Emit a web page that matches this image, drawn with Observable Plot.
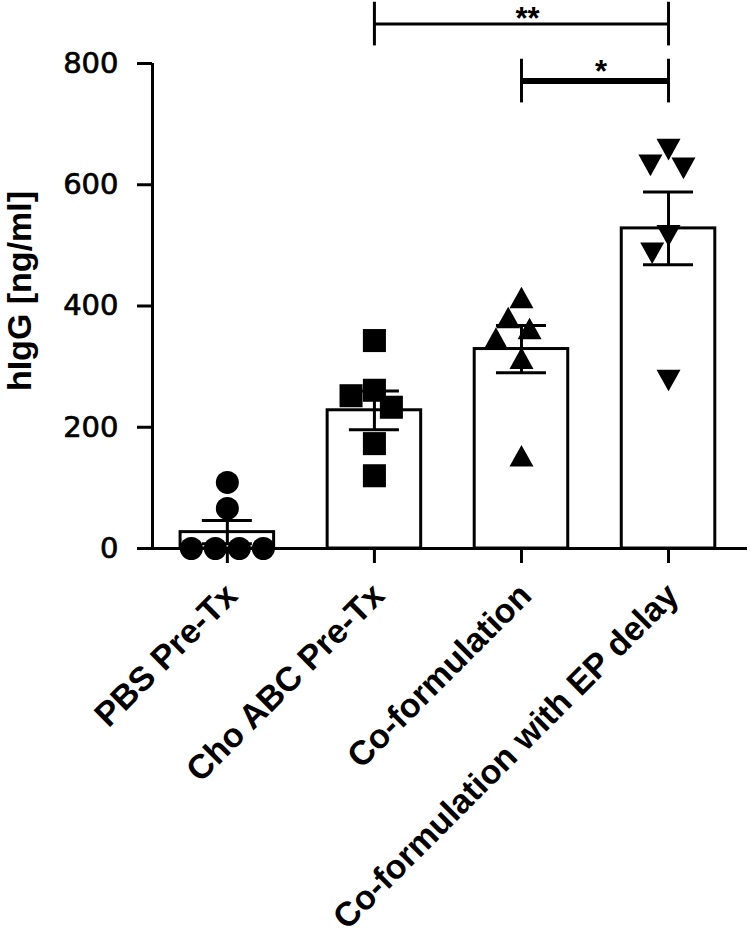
<!DOCTYPE html>
<html>
<head>
<meta charset="utf-8">
<script src="https://cdn.jsdelivr.net/npm/d3@7"></script>
<script src="https://cdn.jsdelivr.net/npm/@observablehq/plot@0.6"></script>
<style>
  html, body { margin: 0; padding: 0; background: #fff; }
  #chart svg { display: block; }
  #chart svg g[aria-label="y-axis tick label"] text { stroke: black; stroke-width: 0.7px; }
</style>
</head>
<body>
<div id="chart"></div>
<script>
// ---- data ----
const groups = ["PBS Pre-Tx", "Cho ABC Pre-Tx", "Co-formulation", "Co-formulation with EP delay"];
const pbsValues = [109, 66, 0, 0, 0, 0];
const choValues = [343, 261, 252, 233, 173, 120];
const coValues  = [414, 381, 363, 347, 314, 153];
const epValues  = [658, 627, 632, 516, 487, 277];
const means = [27, 228, 329, 528];
const sems  = [19, 32, 39, 60];
const yTicks = [0, 200, 400, 600, 800];
const yLabel = "hIgG [ng/ml]";
const sigFrom = [1, 2];
const sigTo = [3, 3];
const sigLabels = ["**", "*"];
const sigLevels = [865, 771];

// ---- layout ----
const W = 750, H = 938;
const mL = 152, mR = 3, mT = 63, mB = 390;
const xDomain = [-0.509, 3.537];
const yDomain = [0, 800];
const pxPerX = (W - mL - mR) / (xDomain[1] - xDomain[0]);
const pxPerY = (H - mT - mB) / (yDomain[1] - yDomain[0]);

// beeswarm layout of the points in each group (pixel space), returned in x units
function swarm(values, diameter) {
  const pts = values.map((v, i) => ({v, i, py: v * pxPerY, x: 0}));
  const order = pts.slice().sort((a, b) => b.v - a.v);
  const placed = [];
  const d2 = diameter * diameter;
  for (const p of order) {
    const cands = [0];
    for (const q of placed) {
      const dy = p.py - q.py;
      if (Math.abs(dy) < diameter) {
        const dx = Math.sqrt(d2 - dy * dy);
        cands.push(q.x - dx, q.x + dx);
      }
    }
    cands.sort((a, b) => Math.abs(a) - Math.abs(b) || a - b);
    p.x = cands.find(c => placed.every(q => (c - q.x) ** 2 + (p.py - q.py) ** 2 >= d2 - 1e-6));
    placed.push(p);
  }
  // recentre groups of tied values when possible
  const ties = d3.group(pts, p => p.v);
  for (const [, g] of ties) {
    if (g.length < 2) continue;
    const m = d3.mean(g, p => p.x);
    const others = pts.filter(p => !g.includes(p));
    const ok = g.every(p => others.every(q => (p.x - m - q.x) ** 2 + (p.py - q.py) ** 2 >= d2 - 1e-6));
    if (ok) g.forEach(p => p.x -= m);
  }
  return pts.map(p => p.x / pxPerX);
}

const groupValues = [pbsValues, choValues, coValues, epValues];
const points = groupValues.map((vals, gi) => {
  const offs = swarm(vals, 24);
  return vals.map((v, k) => ({g: gi, value: v, x: gi + offs[k]}));
});

const summary = groups.map((name, i) => ({i, name, mean: means[i], sem: sems[i]}));
const sig = sigLabels.map((label, k) => ({from: sigFrom[k], to: sigTo[k], level: sigLevels[k], label}));

// custom triangle symbols
const triUp = {
  draw(ctx, size) {
    const r = Math.sqrt(size / Math.PI), h = r * 0.9;
    ctx.moveTo(0, -h); ctx.lineTo(r, h); ctx.lineTo(-r, h); ctx.closePath();
  }
};
const triDown = {
  draw(ctx, size) {
    const r = Math.sqrt(size / Math.PI), h = r * 0.9;
    ctx.moveTo(0, h); ctx.lineTo(r, -h); ctx.lineTo(-r, -h); ctx.closePath();
  }
};
const symbols = ["circle", "square", triUp, triDown];
const radii = [11.5, 13, 12, 12];

const halfBar = 0.318, halfCap = 0.17, brH = 36;
const boldFont = "'Liberation Sans', Arial, sans-serif";
const starStyle = {x: d => (d.from + d.to) / 2, y: "level", text: "label", lineAnchor: "bottom", dx: 6,
  fontSize: 31, fontWeight: "bold", fontFamily: boldFont, fill: "black"};

const chart = Plot.plot({
  width: W, height: H,
  marginLeft: mL, marginRight: mR, marginTop: mT, marginBottom: mB,
  style: {fontFamily: "'DejaVu Sans', sans-serif", background: "white", color: "black"},
  x: {type: "linear", domain: xDomain},
  y: {domain: yDomain},
  marks: [
    // bars
    Plot.rect(summary, {x1: d => d.i - halfBar, x2: d => d.i + halfBar, y1: () => 0, y2: "mean",
      fill: "white", stroke: "black", strokeWidth: 3}),
    // error bars
    Plot.ruleX(summary, {x: "i", y1: d => d.mean - d.sem, y2: d => d.mean + d.sem, stroke: "black", strokeWidth: 3}),
    Plot.ruleY(summary, {y: d => d.mean + d.sem, x1: d => d.i - halfCap, x2: d => d.i + halfCap, stroke: "black", strokeWidth: 3}),
    Plot.ruleY(summary, {y: d => Math.max(0, d.mean - d.sem), x1: d => d.i - halfCap, x2: d => d.i + halfCap, stroke: "black", strokeWidth: 3}),
    // axes
    Plot.ruleY([0], {stroke: "black", strokeWidth: 3}),
    Plot.ruleX([xDomain[0]], {y1: yDomain[0], y2: yDomain[1], stroke: "black", strokeWidth: 3}),
    Plot.axisY(yTicks, {tickSize: 15, tickPadding: 19, fontSize: 29, strokeWidth: 3, label: null, tickFormat: d => String(d)}),
    Plot.axisX([0, 1, 2, 3], {tickSize: 15, tickFormat: () => "", strokeWidth: 3, label: null}),
    // points
    ...points.map((pts, gi) => Plot.dot(pts, {x: "x", y: "value", symbol: symbols[gi], r: radii[gi], fill: "black", stroke: "none"})),
    // significance brackets
    Plot.ruleY(sig, {y: "level", x1: "from", x2: "to", stroke: "black", strokeWidth: d => d.label === "*" ? 6 : 3}),
    Plot.ruleX(sig, {x: "from", y1: d => d.level - brH, y2: d => d.level + brH, stroke: "black", strokeWidth: 3}),
    Plot.ruleX(sig, {x: "to", y1: d => d.level - brH, y2: d => d.level + brH, stroke: "black", strokeWidth: 3}),
    Plot.text(sig, {...starStyle, filter: d => d.label === "**", dy: 5}),
    Plot.text(sig, {...starStyle, filter: d => d.label !== "**", dy: 1}),
    // category labels
    Plot.text(groups, {x: (d, i) => i, y: () => 0, text: d => d, rotate: -45, textAnchor: "end", lineAnchor: "bottom",
      dx: 12, dy: 49, fontSize: 34, fontWeight: "bold", fontFamily: boldFont, fill: "black"}),
    // y axis title
    Plot.text([yLabel], {frameAnchor: "left", text: d => d, rotate: -90, textAnchor: "middle", lineAnchor: "bottom",
      dx: -122, dy: -15, fontSize: 34, fontWeight: "bold", fontFamily: boldFont, fill: "black"})
  ]
});
document.getElementById("chart").appendChild(chart);
</script>
</body>
</html>
